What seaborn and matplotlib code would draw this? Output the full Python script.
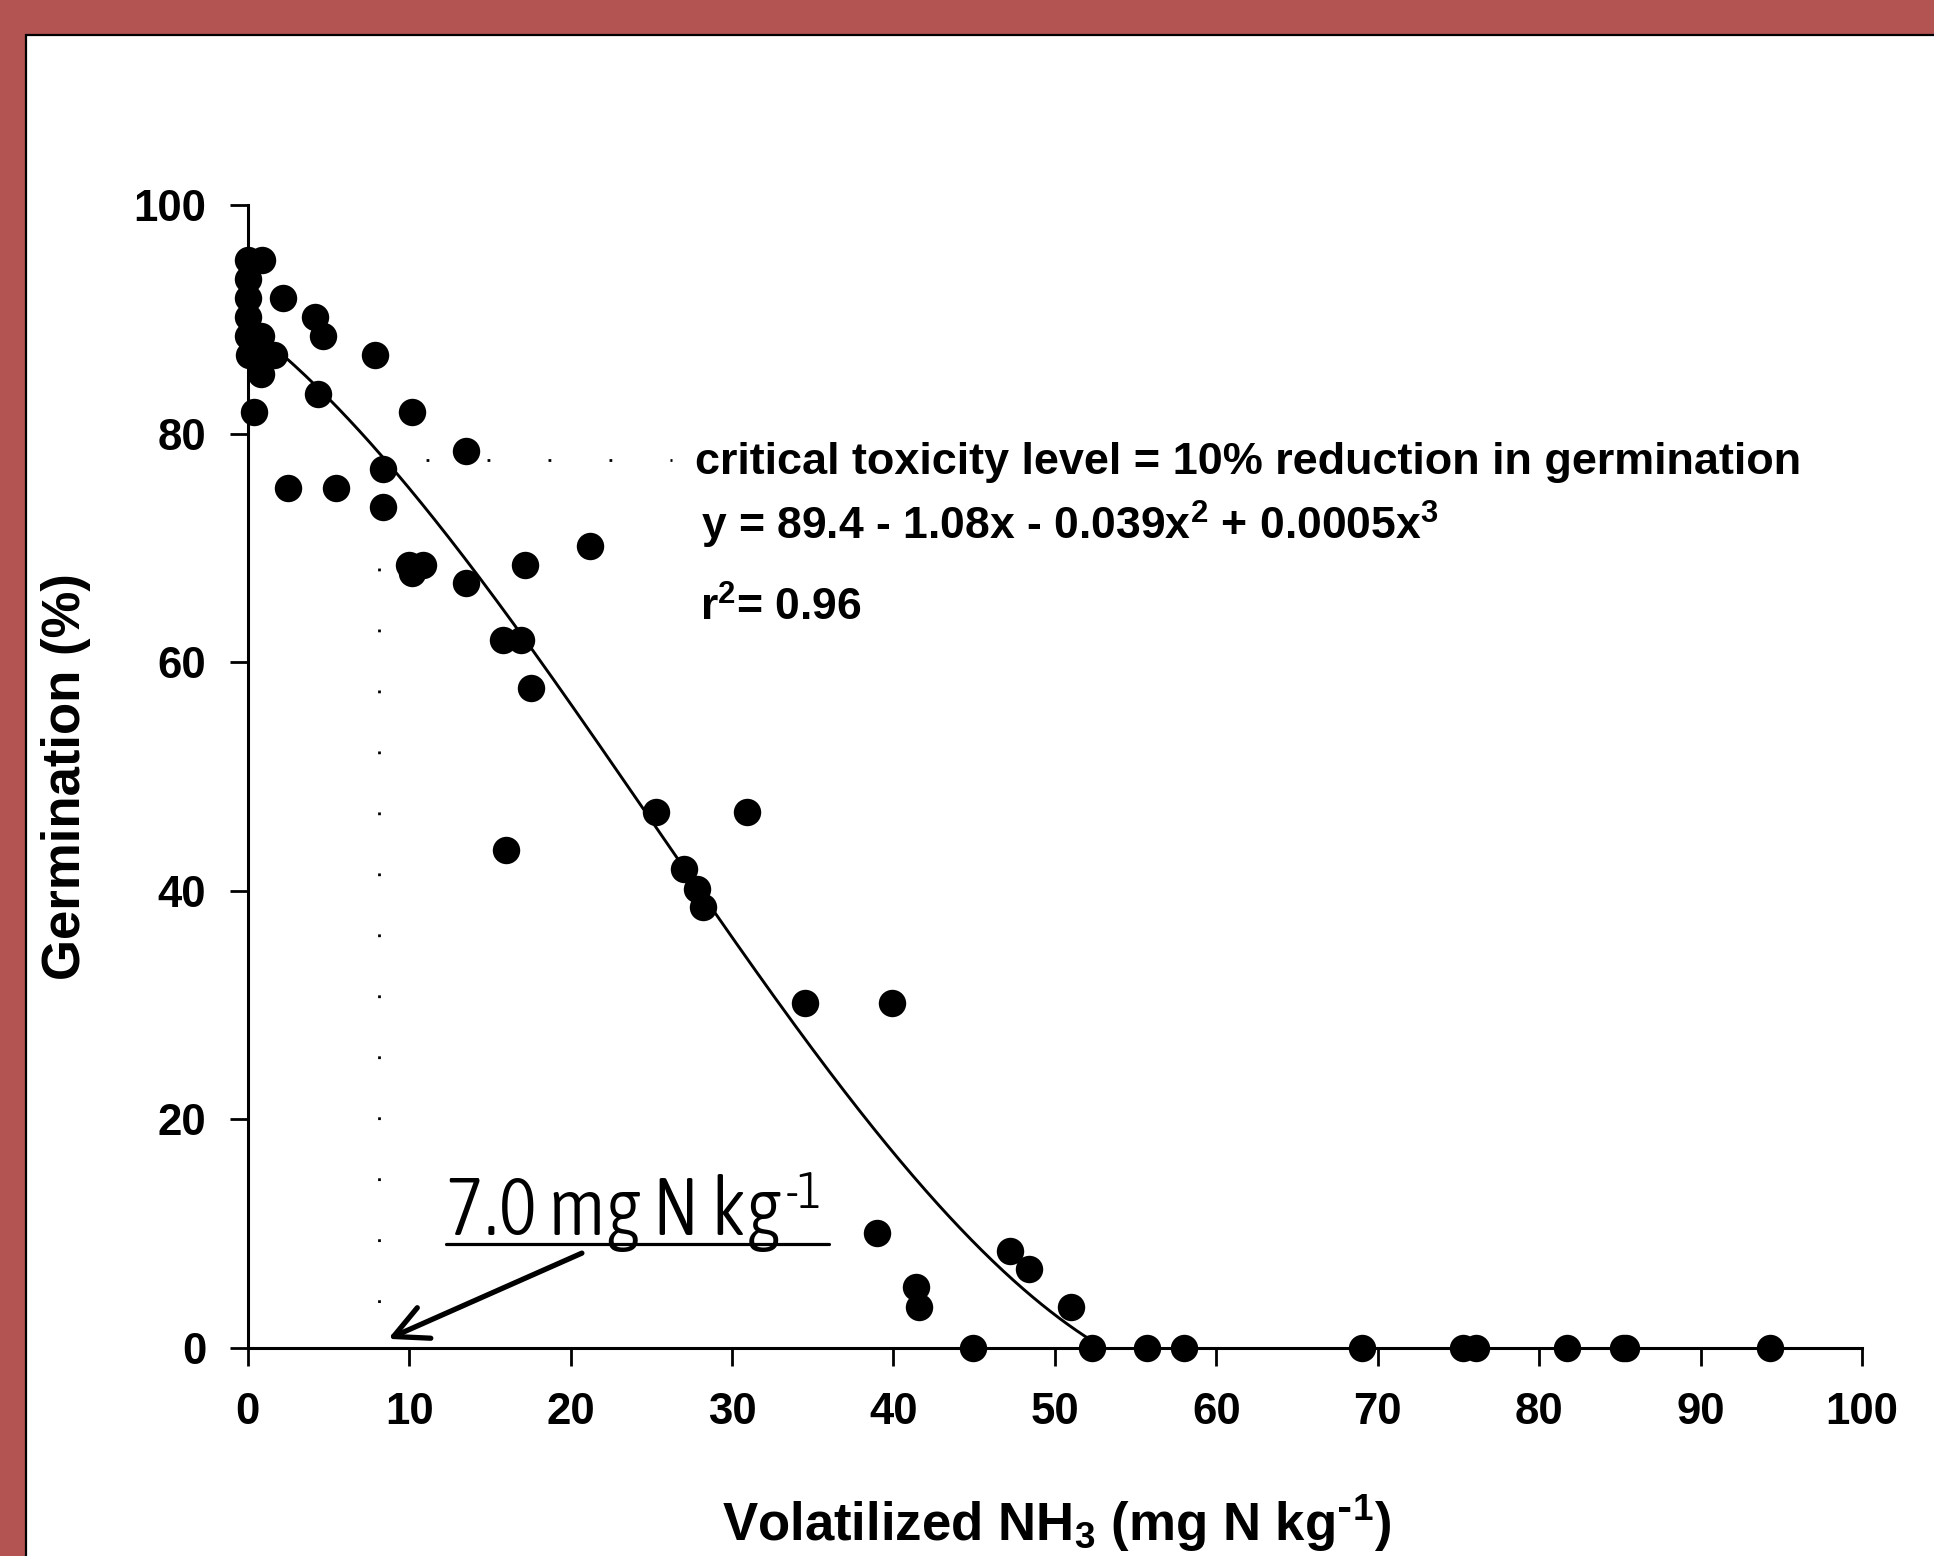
import numpy as np
import pandas as pd
import matplotlib
matplotlib.use("Agg")
import matplotlib.pyplot as plt
import seaborn as sns
from matplotlib import font_manager as fm
from matplotlib.patches import Rectangle

# ---------------- data ----------------
volatilized_nh3 = [0.0, 0.9, 0.0, 0.0, 2.2, 0.0, 4.15, 0.0, 0.8, 4.65, 0.1, 1.6, 7.9,
                   0.8, 4.35, 0.4, 10.15, 13.5, 8.4, 2.5, 5.45, 8.4, 21.2, 10.0, 10.85,
                   10.15, 17.2, 13.5, 15.8, 16.95, 17.55, 25.3, 30.9, 16.0, 27.0, 27.8,
                   28.2, 34.5, 39.9, 39.0, 47.2, 48.4, 41.4, 41.6, 51.0,
                   44.9, 52.3, 55.7, 58.0, 69.0, 75.3, 76.1, 81.7, 85.2, 85.4, 94.3]
germination = [95.2, 95.2, 93.5, 91.9, 91.9, 90.2, 90.2, 88.5, 88.5, 88.5, 86.9, 86.9, 86.9,
               85.2, 83.5, 81.9, 81.9, 78.5, 76.9, 75.2, 75.2, 73.6, 70.2, 68.5, 68.5,
               67.8, 68.5, 66.9, 61.9, 61.9, 57.7, 46.9, 46.9, 43.6, 41.9, 40.2,
               38.6, 30.2, 30.2, 10.1, 8.5, 6.9, 5.3, 3.6, 3.6,
               0, 0, 0, 0, 0, 0, 0, 0, 0, 0, 0]

# cubic regression shown on the chart (ascending powers)
fit_coef = [89.4, -1.08, -0.039, 0.00052]
critical_x = 8.15
critical_y = 77.7

x_ticks = list(range(0, 101, 10))
y_ticks = list(range(0, 101, 20))

x_label = r"Volatilized NH$_3$ (mg N kg$^{\text{-}1}$)"
y_label = "Germination (%)"
note_text = "critical toxicity level = 10% reduction in germination"
eq_text = "y = 89.4 - 1.08x - 0.039x$^{2}$ + 0.0005x$^{3}$"
r2_text = "r$^{2}$= 0.96"
crit_main = "7.0 mg N kg"
crit_sup = "-1"

# ---------------- style ----------------
sns.set_theme(style="ticks")
plt.rcParams['font.family'] = ['Liberation Sans', 'DejaVu Sans']
plt.rcParams['font.weight'] = 'bold'
plt.rcParams['mathtext.default'] = 'regular'
plt.rcParams['lines.scale_dashes'] = False
plt.rcParams['axes.unicode_minus'] = False

W, H = 1934, 1556
fig = plt.figure(figsize=(W / 100, H / 100), dpi=100, facecolor='#B35452')
panel = Rectangle((26 / W, -0.05), 1.1, (H - 35) / H + 0.05, transform=fig.transFigure,
                  facecolor='white', edgecolor='black', linewidth=1.6, zorder=-1)
fig.add_artist(panel)

ax = fig.add_axes([247.7 / W, 208 / H, 1614.4 / W, 1143 / H])
ax.set_facecolor('white')

df = pd.DataFrame({'Volatilized NH3': volatilized_nh3, 'Germination': germination})
sns.scatterplot(data=df, x='Volatilized NH3', y='Germination', s=390, color='black',
                linewidth=0, ax=ax, clip_on=False, zorder=4, legend=False)

roots = np.polynomial.polynomial.polyroots(fit_coef)
root = min(r.real for r in roots if abs(r.imag) < 1e-9 and r.real > 0)
xs = np.linspace(0, root, 400)
ys = np.polynomial.polynomial.polyval(xs, fit_coef)
sns.lineplot(x=xs, y=ys, color='black', linewidth=2.1, ax=ax, zorder=3)

dot_style = (10, (2.0, 41.9))
ax.plot([critical_x, critical_x], [critical_y, 0], color='black', lw=2.0,
        linestyle=dot_style, zorder=2)
ax.plot([critical_x, 26.3], [critical_y, critical_y], color='black', lw=2.0,
        linestyle=dot_style, zorder=2)

ax.set_xlim(0, 100)
ax.set_ylim(0, 100)
ax.set_xticks(x_ticks)
ax.set_yticks(y_ticks)
ax.set_xticklabels([str(v) for v in x_ticks])
ax.set_yticklabels([str(v) for v in y_ticks])
for s in ['top', 'right']:
    ax.spines[s].set_visible(False)
for s in ['left', 'bottom']:
    ax.spines[s].set_linewidth(2.2)
    ax.spines[s].set_color('black')
ax.tick_params(axis='both', direction='out', length=13, width=2.0, color='black',
               labelsize=31.5, labelcolor='black')
ax.tick_params(axis='x', pad=19)
ax.tick_params(axis='y', pad=17)
for lab in ax.get_xticklabels() + ax.get_yticklabels():
    lab.set_fontweight('bold')

ax.set_xlabel(x_label, fontsize=38, fontweight='bold', color='black')
ax.set_ylabel(y_label, fontsize=38, fontweight='bold', color='black')
ax.xaxis.set_label_coords(0.501, -0.127)
ax.yaxis.set_label_coords(-0.097, 0.5)

ax.text(27.7, 76.5, note_text, fontsize=32.4, fontweight='bold', va='baseline', ha='left', color='black')
ax.text(28.1, 70.75, eq_text, fontsize=32, fontweight='bold', va='baseline', ha='left', color='black')
ax.text(28.0, 63.6, r2_text, fontsize=32, fontweight='bold', va='baseline', ha='left', color='black')

# condensed light font for the critical value label
def _w(f):
    w = f.weight
    if isinstance(w, str):
        w = {'ultralight': 200, 'light': 300, 'normal': 400, 'regular': 400, 'book': 400,
             'medium': 500, 'semibold': 600, 'bold': 700, 'heavy': 800, 'black': 900}.get(w, 400)
    return w

cond = [f for f in fm.fontManager.ttflist
        if ('Narrow' in f.name or 'Condensed' in f.name or
            str(f.stretch) in ('condensed', 'semi-condensed', 'extra-condensed', 'ultra-condensed'))
        and 'Italic' not in f.fname and 'Oblique' not in f.fname and f.style == 'normal']
if cond:
    best = sorted(cond, key=lambda f: abs(_w(f) - 300))[0]
    cp = fm.FontProperties(fname=best.fname)
else:
    cp = fm.FontProperties(family=['Roboto', 'DejaVu Sans'], weight='light')
cp.set_size(50)
t = ax.text(12.31, 9.89, crit_main, fontproperties=cp, va='baseline', ha='left', color='black')
fig.canvas.draw()
bb = t.get_window_extent()
size = 50 * 336.0 / bb.width
cp2 = cp.copy()
cp2.set_size(size)
t.set_fontproperties(cp2)
fig.canvas.draw()
bb = t.get_window_extent()
inv = ax.transData.inverted()
x_end = inv.transform((bb.x1, bb.y0))[0]
cp3 = cp.copy()
cp3.set_size(size * 0.62)
sup = ax.annotate(crit_sup, xy=(x_end, 9.89), xytext=(3, size * 0.33),
                  textcoords='offset points', fontproperties=cp3, va='baseline', ha='left',
                  color='black')
fig.canvas.draw()
sb = sup.get_window_extent()
ux0 = inv.transform((bb.x0, bb.y0))[0]
ux1 = inv.transform((sb.x1 + 7, bb.y0))[0]
ax.plot([ux0, ux1], [9.1, 9.1], color='black', lw=2.3, zorder=3)

ax.annotate('', xy=(8.7, 0.8), xytext=(20.7, 8.3),
            arrowprops=dict(arrowstyle='->,head_length=0.8,head_width=0.4', lw=3.8,
                            color='black', shrinkA=0, shrinkB=0, mutation_scale=30),
            annotation_clip=False, zorder=3)

fig.savefig('out.png', dpi=100, facecolor=fig.get_facecolor())
